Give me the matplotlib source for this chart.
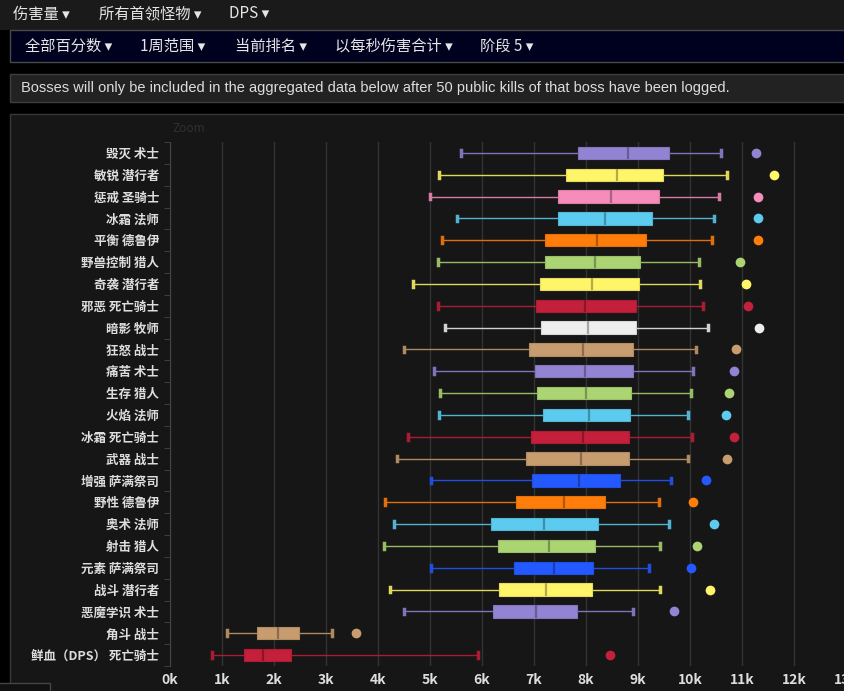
import matplotlib
matplotlib.use("Agg")
import matplotlib.pyplot as plt
from matplotlib.patches import Rectangle

plt.rcParams['font.family'] = ['Noto Sans CJK SC', 'DejaVu Sans']

# spec names, top to bottom
specs = ['毁灭 术士', '敏锐 潜行者', '惩戒 圣骑士', '冰霜 法师', '平衡 德鲁伊', '野兽控制 猎人',
         '奇袭 潜行者', '邪恶 死亡骑士', '暗影 牧师', '狂怒 战士', '痛苦 术士', '生存 猎人',
         '火焰 法师', '冰霜 死亡骑士', '武器 战士', '增强 萨满祭司', '野性 德鲁伊', '奥术 法师',
         '射击 猎人', '元素 萨满祭司', '战斗 潜行者', '恶魔学识 术士', '角斗 战士', '鲜血（DPS） 死亡骑士']
classes = ['warlock', 'rogue', 'paladin', 'mage', 'druid', 'hunter',
           'rogue', 'dk', 'priest', 'warrior', 'warlock', 'hunter',
           'mage', 'dk', 'warrior', 'shaman', 'druid', 'mage',
           'hunter', 'shaman', 'rogue', 'warlock', 'warrior', 'dk']

# DPS in thousands
low = [5.59, 5.17, 5.00, 5.52, 5.24, 5.15, 4.68, 5.15, 5.28, 4.50, 5.08, 5.20,
       5.17, 4.58, 4.36, 5.02, 4.13, 4.31, 4.12, 5.02, 4.24, 4.50, 1.09, 0.81]
q1 = [7.85, 7.62, 7.46, 7.46, 7.22, 7.22, 7.11, 7.03, 7.13, 6.90, 7.01, 7.06,
      7.18, 6.94, 6.85, 6.96, 6.66, 6.18, 6.31, 6.62, 6.33, 6.22, 1.68, 1.42]
median = [8.81, 8.59, 8.48, 8.37, 8.22, 8.17, 8.12, 7.99, 8.03, 7.94, 7.98, 8.00,
          8.06, 7.94, 7.90, 7.87, 7.57, 7.20, 7.29, 7.39, 7.24, 7.04, 2.07, 1.79]
q3 = [9.59, 9.49, 9.40, 9.26, 9.15, 9.04, 9.01, 8.96, 8.96, 8.90, 8.90, 8.87,
      8.85, 8.83, 8.83, 8.65, 8.37, 8.24, 8.18, 8.13, 8.11, 7.83, 2.49, 2.33]
high = [10.60, 10.72, 10.55, 10.46, 10.42, 10.18, 10.20, 10.25, 10.35, 10.12, 10.05, 10.01,
        9.96, 10.03, 9.96, 9.63, 9.40, 9.59, 9.42, 9.21, 9.42, 8.90, 3.11, 5.92]
top = [11.26, 11.62, 11.31, 11.31, 11.30, 10.96, 11.07, 11.12, 11.33, 10.88, 10.85, 10.75,
       10.70, 10.85, 10.71, 10.30, 10.06, 10.46, 10.13, 10.02, 10.39, 9.70, 3.58, 8.46]

class_colors = {
    'warlock': '#9383d3', 'rogue': '#fff569', 'paladin': '#f58cba', 'mage': '#5ccbef',
    'druid': '#ff7d0a', 'hunter': '#abd473', 'dk': '#c41f3b', 'priest': '#eeeeee',
    'warrior': '#c79c6e', 'shaman': '#2459ff',
}

W, H = 845, 691
fig = plt.figure(figsize=(W / 100, H / 100), dpi=100)
fig.patch.set_facecolor('#000000')


def box(x0, y0, x1, y1, fc, ec=None, lw=1):
    fig.add_artist(Rectangle((x0 / W, 1 - y1 / H), (x1 - x0) / W, (y1 - y0) / H,
                             transform=fig.transFigure, facecolor=fc,
                             edgecolor=ec if ec else 'none', linewidth=lw, zorder=0))


def txt(x, y, s, size, color='#e6e6e6', **kw):
    fig.text(x / W, 1 - y / H, s, fontsize=size, color=color, va='center', ha='left', **kw)


# page chrome
box(0, 0, W, 30, '#1a1a1a')
box(10, 30, W + 2, 62, '#00001f', '#4a4a4a')
box(10, 74, W + 2, 102, '#222222', '#3e3e3e')
box(10, 114, W + 2, H + 2, '#161616', '#383838')
box(-2, 683, 50, H + 2, '#111111', '#444444')

for x, s in [(13, '伤害量 ▾'), (99, '所有首领怪物 ▾'), (229, 'DPS ▾')]:
    txt(x, 14, s, 11)
for x, s in [(25, '全部百分数 ▾'), (140, '1周范围 ▾'), (235, '当前排名 ▾'),
             (335, '以每秒伤害合计 ▾'), (480, '阶段 5 ▾')]:
    txt(x, 46, s, 11)
txt(21, 88, 'Bosses will only be included in the aggregated data below after 50 public kills '
    'of that boss have been logged.', 10.5, color='#dddddd', family='Liberation Sans')
txt(172, 128, 'Zoom', 8.5, color='#303030')


def darker(c, f=0.75):
    r, g, b = matplotlib.colors.to_rgb(c)
    return (r * f, g * f, b * f)


# plot area
px_left, px_right, px_top, px_bot = 170, 846, 142, 666
ax = fig.add_axes([px_left / W, 1 - px_bot / H, (px_right - px_left) / W, (px_bot - px_top) / H])
ax.set_facecolor('none')

for i in range(len(specs)):
    c = class_colors[classes[i]]
    stats = [{'whislo': low[i], 'q1': q1[i], 'med': median[i], 'q3': q3[i],
              'whishi': high[i], 'fliers': [top[i]]}]
    ax.bxp(stats, positions=[i], widths=0.56, orientation='horizontal', patch_artist=True,
           capwidths=0.26,
           boxprops=dict(facecolor=c, edgecolor=darker(c, 0.9), linewidth=0.8),
           medianprops=dict(color=darker(c, 0.7), linewidth=1.6),
           whiskerprops=dict(color=darker(c, 0.88), linewidth=1.0),
           capprops=dict(color=darker(c, 0.88), linewidth=2.5),
           flierprops=dict(marker='o', markerfacecolor=c, markeredgecolor='none', markersize=7))

ax.set_xlim(0, 13)
ax.set_ylim(len(specs) - 0.5, -0.5)
ax.set_xticks(range(14))
ax.set_xticklabels([f'{k}k' for k in range(14)])
ax.set_yticks(range(len(specs)))
ax.set_yticklabels(specs)
ax.set_yticks([i - 0.5 for i in range(len(specs) + 1)], minor=True)
ax.grid(axis='x', color='#333333', linewidth=1)
ax.set_axisbelow(True)
for side in ['top', 'right', 'bottom']:
    ax.spines[side].set_visible(False)
ax.spines['left'].set_color('#444444')
ax.tick_params(axis='y', which='major', length=0, pad=8, labelsize=9, labelcolor='#dddddd')
ax.tick_params(axis='y', which='minor', length=4, color='#444444')
ax.tick_params(axis='x', length=0, pad=5, labelsize=10, labelcolor='#dddddd')
for lab in ax.get_yticklabels() + ax.get_xticklabels():
    lab.set_fontweight('bold')

fig.savefig('out.png', dpi=100, facecolor=fig.get_facecolor())
